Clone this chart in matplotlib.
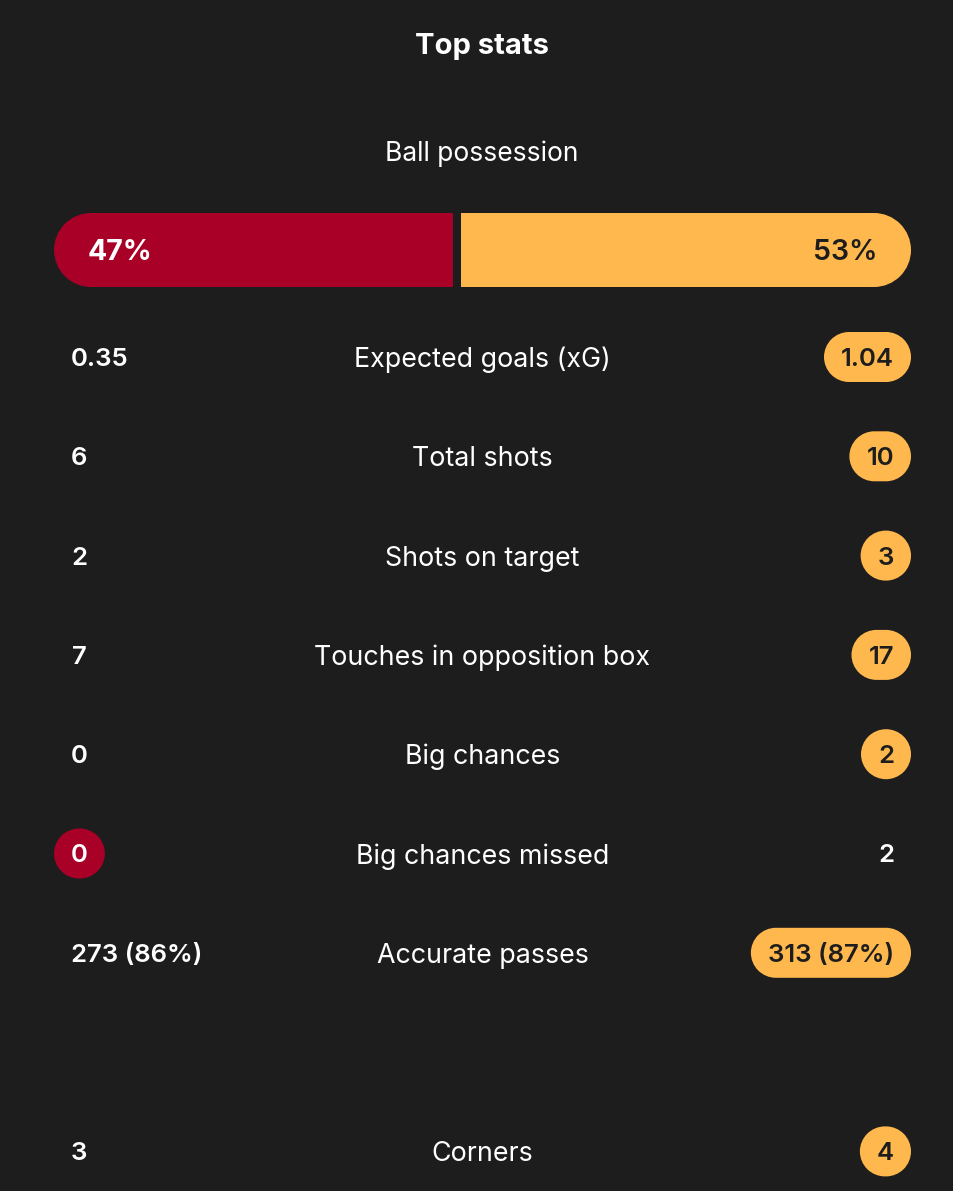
import matplotlib
matplotlib.use("Agg")
import numpy as np
import matplotlib.pyplot as plt
from matplotlib.patches import PathPatch
from matplotlib.path import Path

# ---- data ----
title = "Top stats"
possession_label = "Ball possession"
possession_home = 47
possession_away = 53

stat_labels = ["Expected goals (xG)", "Total shots", "Shots on target",
               "Touches in opposition box", "Big chances", "Big chances missed",
               "Accurate passes", "Corners"]
home_values = ["0.35", "6", "2", "7", "0", "0", "273 (86%)", "3"]
away_values = ["1.04", "10", "3", "17", "2", "2", "313 (87%)", "4"]
highlight = ["away", "away", "away", "away", "away", "home", "away", "away"]
row_slots = [0, 1, 2, 3, 4, 5, 6, 8]

# ---- style ----
BG = "#1d1d1d"
RED = "#a80026"
YELLOW = "#ffb84d"
WHITE = "#ffffff"
DARK = "#1d1d1d"
FONT = "Inter"

W, H = 954, 1191
fig = plt.figure(figsize=(W / 100, H / 100), dpi=100, facecolor=BG)
ax = fig.add_axes([0, 0, 1, 1])
ax.set_xlim(0, W)
ax.set_ylim(H, 0)
ax.axis("off")
ax.set_facecolor(BG)


def stadium(x0, y0, w, h, **kw):
    r = h / 2
    a1 = Path.arc(-90, 90)
    a2 = Path.arc(90, 270)
    v1 = a1.vertices * r + [x0 + w - r, y0 + r]
    v2 = a2.vertices * r + [x0 + r, y0 + r]
    c2 = a2.codes.copy()
    c2[0] = Path.LINETO
    verts = np.vstack([v1, v2, v1[:1]])
    codes = np.concatenate([a1.codes, c2, [Path.CLOSEPOLY]])
    return PathPatch(Path(verts, codes), **kw)


left_x, right_x = 54, 911
cx = (left_x + right_x) / 2

ax.text(482, 44, title, ha="center", va="center_baseline", color=WHITE,
        fontsize=21, fontweight="bold", family=FONT)
ax.text(482, 151, possession_label, ha="center", va="center_baseline", color=WHITE,
        fontsize=19, family=FONT)

# possession bar
bar_y0, bar_h = 213, 74
gap = 8
clip = stadium(left_x, bar_y0, right_x - left_x, bar_h, facecolor="none", edgecolor="none")
ax.add_patch(clip)
usable = right_x - left_x - gap
red_w = usable * possession_home / (possession_home + possession_away)
bars = ax.bar([left_x, left_x + red_w + gap], [bar_h, bar_h], bottom=bar_y0,
              width=[red_w, usable - red_w], align="edge",
              color=[RED, YELLOW], edgecolor="none")
for b in bars:
    b.set_clip_path(clip)
ax.text(left_x + 34, bar_y0 + bar_h / 2, f"{possession_home}%", ha="left",
        va="center_baseline", color=WHITE, fontsize=20.5, fontweight="bold", family=FONT)
ax.text(right_x - 33, bar_y0 + bar_h / 2, f"{possession_away}%", ha="right",
        va="center_baseline", color=DARK, fontsize=20.5, fontweight="semibold", family=FONT)

fig.canvas.draw()
renderer = fig.canvas.get_renderer()

pill_h = 50
pad = 17
row0, step = 357, 99.3
lab_fs = 19.3
val_fs = 18.5
val_w = "semibold"


def text_width(s):
    t = ax.text(0, 0, s, fontsize=val_fs, family=FONT, fontweight=val_w)
    bb = t.get_window_extent(renderer=renderer)
    t.remove()
    return bb.width


for lab, hv, av, hl, slot in zip(stat_labels, home_values, away_values, highlight, row_slots):
    y = row0 + step * slot
    ax.text(cx, y, lab, ha="center", va="center_baseline", color=WHITE,
            fontsize=lab_fs, family=FONT)
    for side, v in (("home", hv), ("away", av)):
        w = max(pill_h, text_width(v) + 2 * pad)
        x0 = left_x if side == "home" else right_x - w
        if hl == side:
            ax.add_patch(stadium(x0, y - pill_h / 2, w, pill_h,
                                 facecolor=RED if side == "home" else YELLOW,
                                 edgecolor="none"))
            color = WHITE if side == "home" else DARK
        else:
            color = WHITE
        ax.text(x0 + w / 2, y, v, ha="center", va="center_baseline", color=color,
                fontsize=val_fs, fontweight=val_w, family=FONT)

fig.savefig("out.png", dpi=100, facecolor=BG)
